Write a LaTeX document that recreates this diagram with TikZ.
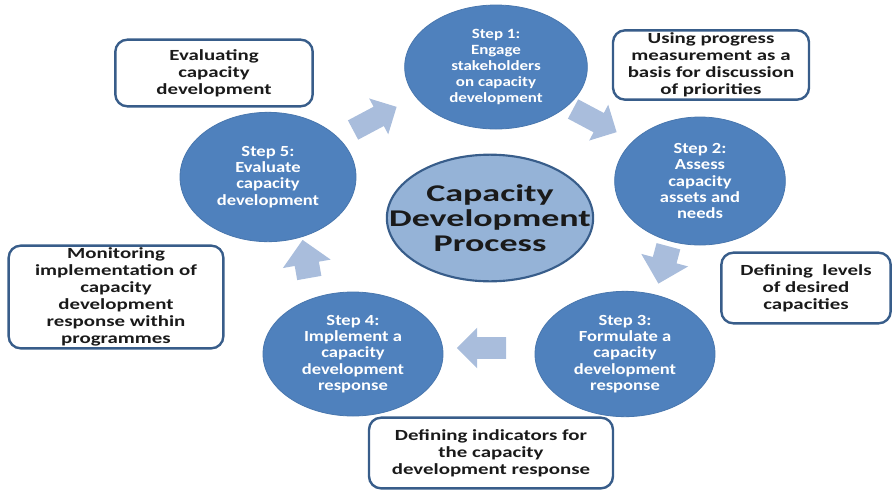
\documentclass[tikz,border=0pt]{standalone}
\usepackage{fontspec}
\setmainfont{Carlito}
\newfontfamily\stepfont[FakeStretch=1.2]{Carlito}
\newfontfamily\notefont[FakeStretch=1.35]{Carlito}
\newfontfamily\corefont[FakeStretch=1.5]{Carlito}
\usetikzlibrary{shapes.geometric,shapes.arrows}
\definecolor{stepblue}{HTML}{4F81BD}
\definecolor{coreblue}{HTML}{95B3D7}
\definecolor{edgeblue}{HTML}{385D8A}
\definecolor{arrowblue}{HTML}{A9BDDC}
\definecolor{inkgrey}{HTML}{1A1A1A}

\begin{document}
\begin{tikzpicture}[x=0.75pt,y=-0.75pt,
	stepnode/.style={ellipse,fill=stepblue,draw=stepblue!92!black,line width=0.6pt,inner sep=0pt,text=white,align=center,font=\stepfont\bfseries\fontsize{11.6}{12.2}\selectfont},
	corenode/.style={ellipse,fill=coreblue,draw=edgeblue,line width=1.6pt,inner xsep=-21pt,inner ysep=0pt,text=inkgrey,align=center,font=\corefont\bfseries\fontsize{18}{19}\selectfont},
	notebox/.style={rectangle,rounded corners=9pt,draw=edgeblue,line width=1.8pt,fill=white,inner sep=0pt,text=inkgrey,align=center,font=\notefont\bfseries\fontsize{11.6}{12.7}\selectfont},
	blockarrow/.style={single arrow,fill=arrowblue,draw=none,inner xsep=0pt,inner ysep=8pt,single arrow head extend=7pt,minimum height=37pt},
	stubarrow/.style={blockarrow,inner ysep=9pt,single arrow head extend=9pt,minimum height=29pt}]
			\useasboundingbox (0,0) rectangle (893,490);
			\node[stepnode,minimum width=137pt,minimum height=93pt,font=\stepfont\bfseries\fontsize{10.6}{12.1}\selectfont] (s1) at (496,67) {Step 1:\\Engage\\stakeholders\\on capacity\\development};
			\node[stepnode,minimum width=128pt,minimum height=96pt] (s2) at (700,181) {Step 2:\\Assess\\capacity\\assets and\\needs};
			\node[stepnode,minimum width=135pt,minimum height=94pt] (s3) at (625,354) {Step 3:\\Formulate a\\capacity\\development\\response};
			\node[stepnode,minimum width=135pt,minimum height=93pt] (s4) at (353,354) {Step 4:\\Implement a\\capacity\\development\\response};
			\node[stepnode,minimum width=132pt,minimum height=97pt] (s5) at (268,177) {Step 5:\\Evaluate\\capacity\\development};
			\node[corenode,minimum width=153pt,minimum height=95pt] (core) at (490,218) {Capacity\\Development\\Process};
			\node[notebox,minimum width=148pt,minimum height=50pt] (n5) at (214,73) {Evaluating\\capacity\\development};
			\node[notebox,minimum width=147pt,minimum height=52pt] (n1) at (711,65) {Using progress\\measurement as a\\basis for discussion\\of priorities};
			\node[notebox,minimum width=127pt,minimum height=53pt] (n2) at (806,288) {Defining\ \ levels\\of desired\\capacities};
			\node[notebox,minimum width=161pt,minimum height=77pt] (n4) at (116,297) {Monitoring\\implementation of\\capacity\\development\\response within\\programmes};
			\node[notebox,minimum width=183pt,minimum height=53pt] (n3) at (491,453) {Defining indicators for\\the capacity\\development response};
			\node[blockarrow,rotate=28] (a51) at (370,121) {};
			\node[blockarrow,rotate=-28] (a12) at (590,118) {};
			\node[stubarrow,rotate=-105] (a23) at (665,259) {};
			\node[blockarrow,rotate=180] (a34) at (487,348) {};
			\node[stubarrow,rotate=100] (a45) at (307,265) {};
		\end{tikzpicture}
\end{document}
